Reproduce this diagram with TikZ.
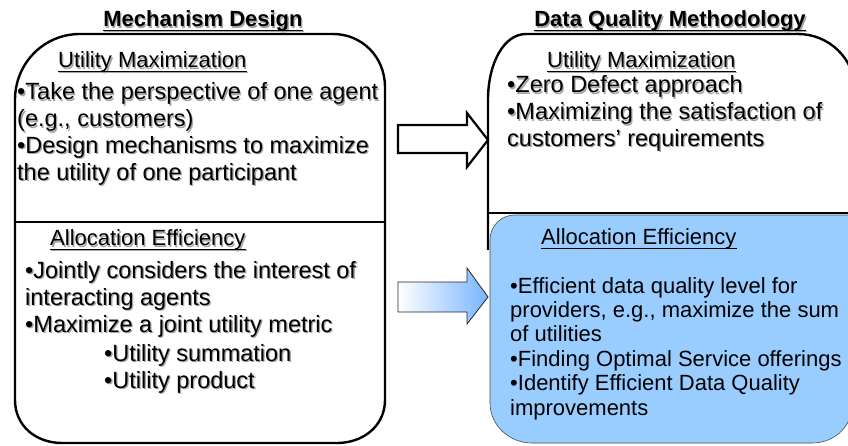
\documentclass[tikz,border=0pt]{standalone}
\usepackage{fontspec}
\setmainfont{Liberation Sans}
\definecolor{fillblue}{RGB}{153,204,255}
\definecolor{arrowblue}{RGB}{120,180,255}
\definecolor{shadowgray}{RGB}{165,165,165}
\newcommand\shd[1]{\leavevmode\rlap{\kern1.3pt\raisebox{-1.3pt}{\textcolor{shadowgray}{#1}}}#1}
\tikzset{
 boxline/.style={line width=2.4pt, draw=black},
 bodytext/.style={inner sep=0pt, anchor=base west, align=left, font=\fontsize{23.5}{26.8}\selectfont},
 bluetext/.style={inner sep=0pt, anchor=base west, align=left, font=\fontsize{22}{24.4}\selectfont},
 titletext/.style={inner sep=0pt, anchor=base, font=\bfseries\fontsize{22}{26}\selectfont},
 headtext/.style={inner sep=0pt, anchor=base west, font=\fontsize{22}{26}\selectfont},
 uline/.style={line width=1.3pt, draw=black},
 ushadow/.style={line width=1.3pt, draw=shadowgray},
 arrowA/.style={line width=2.2pt, draw=black, fill=white, line join=miter},
 arrowB/.style={line width=0.8pt, draw=black!85, left color=white, right color=arrowblue},
 bluebox/.style={fill=fillblue, draw=black!70, line width=0.6pt},
}
\newcommand\ulnode[1]{%
 \draw[ushadow] ([xshift=1.3pt,yshift=-4.6pt]#1.base west) -- ([xshift=1.3pt,yshift=-4.6pt]#1.base east);
 \draw[uline] ([yshift=-3.3pt]#1.base west) -- ([yshift=-3.3pt]#1.base east);}
\begin{document}
\begin{tikzpicture}[x=1pt,y=-1pt]
\useasboundingbox[fill=white] (0,0) rectangle (848,446);
% left box
\draw[boxline] (15,400) -- (15,100) .. controls (15,63) and (44,34) .. (80,34) -- (333,34) .. controls (362,34) and (385,57) .. (385,87) -- (385,400) .. controls (385,426) and (363,443) .. (337,443) -- (62,443) .. controls (36,443) and (15,426) .. (15,400) -- cycle;
\draw[boxline] (15,222) -- (385,222);
% right box
\draw[boxline] (488,250) -- (488,100) .. controls (488,63) and (504,34) .. (526,34) -- (798,34) .. controls (829,34) and (855,59) .. (855,90) -- (855,213);
\draw[boxline] (488,213) -- (855,213);
\path[bluebox] (490,240) .. controls (490,226) and (501,215) .. (515,215) -- (852,215) -- (852,405) .. controls (852,427) and (834,443) .. (812,443) -- (532,443) .. controls (509,443) and (490,425) .. (490,403) -- cycle;
% arrows
\draw[arrowA] (398,125) -- (467,125) -- (467,113) -- (488,140) -- (467,167) -- (467,153) -- (398,153) -- cycle;
\draw[arrowB] (398,282) -- (467,282) -- (467,268) -- (488,297) -- (467,324) -- (467,312) -- (398,312) -- cycle;
% titles
\node[titletext] (t1) at (203,27) {\shd{Mechanism Design}};
\ulnode{t1}
\node[titletext] (t2) at (670,27) {\shd{Data Quality Methodology}};
\ulnode{t2}
% left texts
\node[headtext] (lh1) at (58,68) {\shd{Utility Maximization}};
\ulnode{lh1}
\node[bodytext] (lt1) at (17,180.4) {\shd{•Take the perspective of one agent}\\\shd{(e.g., customers)}\\\shd{•Design mechanisms to maximize}\\\shd{the utility of one participant}};
\node[headtext] (lh2) at (50,246) {\shd{Allocation Efficiency}};
\ulnode{lh2}
\node[bodytext] (lt2) at (25,332) {\shd{•Jointly considers the interest of}\\\shd{interacting agents}\\\shd{•Maximize a joint utility metric}};
\node[bodytext] (lt3) at (104,388) {\shd{•Utility summation}\\\shd{•Utility product}};
% right texts
\node[headtext] (rh1) at (547,68) {\shd{Utility Maximization}};
\ulnode{rh1}
\node[bodytext] (rt1) at (507,146.6) {\shd{•Zero Defect approach}\\\shd{•Maximizing the satisfaction of}\\\shd{customers' requirements}};
\node[headtext] (rh2) at (541,245) {Allocation Efficiency};
\draw[uline] ([yshift=-3.3pt]rh2.base west) -- ([yshift=-3.3pt]rh2.base east);
\node[bluetext] (rt2) at (510,415) {•Efficient data quality level for\\providers, e.g., maximize the sum\\of utilities\\•Finding Optimal Service offerings\\•Identify Efficient Data Quality\\improvements};
\end{tikzpicture}
\end{document}
